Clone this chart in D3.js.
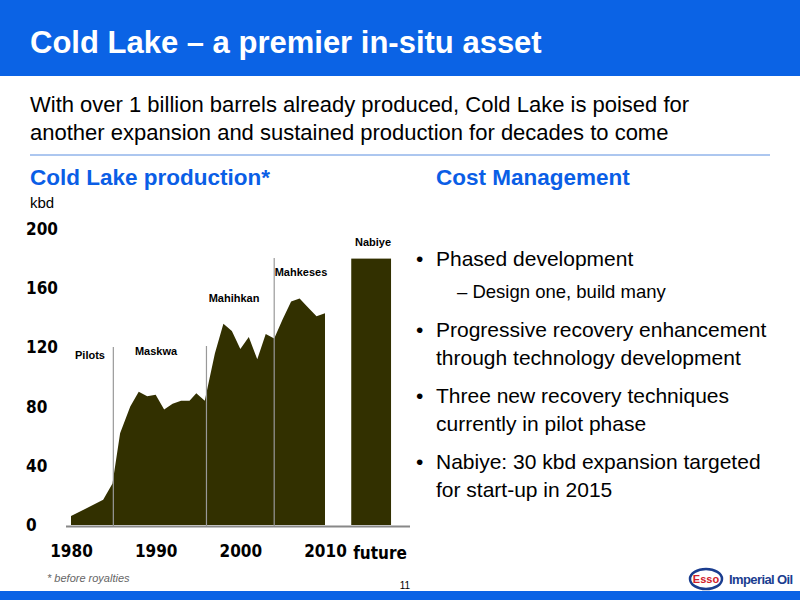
<!DOCTYPE html>
<html><head><meta charset="utf-8">
<script src="https://cdn.jsdelivr.net/npm/d3@7"></script>
<style>body{margin:0;background:#fff}svg{display:block;font-family:"Liberation Sans",Arial,sans-serif}</style>
</head><body><svg id="c" width="800" height="600"></svg>
<script>
// production, kbd
var years = [1980,1983.8,1984.9,1985.8,1987,1988,1989,1990,1991,1992,1993,1994,1994.8,1995.8,1997,1998,1999,2000,2001,2002,2003,2004,2005,2006,2007,2008,2009,2010];
var production = [6,17,28,62,80,90,87,88,78,82,84,84,89,84,116,136,131,119,127,112,129,126,139,151,153,147,141,143];
var futureValue = 180;
var yTicks = [0,40,80,120,160,200];
var xTicks = [1980,1990,2000,2010];
var bullets = [
  ["Phased development"],
  ["Progressive recovery enhancement","through technology development"],
  ["Three new recovery techniques","currently in pilot phase"],
  ["Nabiye: 30 kbd expansion targeted","for start-up in 2015"]
];

var svg = d3.select("#c");
var blue = "#0a5ee6", dark = "#323000";

svg.append("rect").attr("width",800).attr("height",76).attr("fill","#0b63e5");
svg.append("text").attr("x",30).attr("y",53).attr("fill","#fff").attr("font-size",31).attr("font-weight","bold").text("Cold Lake – a premier in-situ asset");
svg.append("text").attr("x",30).attr("y",112).attr("font-size",22).text("With over 1 billion barrels already produced, Cold Lake is poised for");
svg.append("text").attr("x",30).attr("y",140).attr("font-size",22).text("another expansion and sustained production for decades to come");
svg.append("line").attr("x1",30).attr("x2",770).attr("y1",155).attr("y2",155).attr("stroke","#5b8fe0");
svg.append("text").attr("x",30).attr("y",185).attr("fill",blue).attr("font-size",22.5).attr("font-weight","bold").text("Cold Lake production*");
svg.append("text").attr("x",436).attr("y",185).attr("fill",blue).attr("font-size",22.5).attr("font-weight","bold").text("Cost Management");
svg.append("text").attr("x",30).attr("y",208).attr("font-size",15).text("kbd");

var x = d3.scaleLinear().domain([1980,2010]).range([71,325]);
var y = d3.scaleLinear().domain([0,200]).range([525,229]);

svg.append("path").datum(d3.zip(years,production))
  .attr("fill",dark)
  .attr("d",d3.area().x(function(d){return x(d[0]);}).y0(y(0)).y1(function(d){return y(d[1]);}));

svg.append("rect").attr("x",x(2013.1)).attr("width",x(2017.8)-x(2013.1))
  .attr("y",y(futureValue)).attr("height",y(0)-y(futureValue)).attr("fill",dark);

svg.append("line").attr("x1",66).attr("x2",410).attr("y1",526.5).attr("y2",526.5).attr("stroke","#888").attr("stroke-width",2);

var tickFont = "'DejaVu Sans Condensed','Liberation Sans Narrow',sans-serif";
var ya = svg.append("g").attr("transform","translate(58,0)")
  .call(d3.axisLeft(y).tickValues(yTicks).tickSize(0).tickPadding(0));
ya.select(".domain").remove();
ya.selectAll("text").attr("font-size",17).attr("font-weight","bold").attr("font-family",tickFont).attr("fill","#000").attr("text-anchor","start").attr("x",-32);

var xa = svg.append("g").attr("transform","translate(0,545)")
  .call(d3.axisBottom(x).tickValues(xTicks).tickFormat(d3.format("d")).tickSize(0).tickPadding(0));
xa.select(".domain").remove();
xa.selectAll("text").attr("font-size",17).attr("font-weight","bold").attr("font-family",tickFont).attr("fill","#000").attr("dy","0.71em");
svg.append("text").attr("x",x(2016.5)).attr("y",559).attr("text-anchor","middle").attr("font-size",17).attr("font-weight","bold").attr("font-family",tickFont).text("future");

// phase separators and labels
var sepTop = {1985:347,1996:346,2004:258};
[1985,1996,2004].forEach(function(yr){
  svg.append("line").attr("x1",x(yr)).attr("x2",x(yr)).attr("y1",sepTop[yr]).attr("y2",526).attr("stroke","#999").attr("stroke-width",1.2);
});
var labels = [{t:"Pilots",x:90,y:359},{t:"Maskwa",x:156,y:355},{t:"Mahihkan",x:234,y:302},{t:"Mahkeses",x:301,y:276},{t:"Nabiye",x:373,y:246}];
svg.selectAll(".pl").data(labels).enter().append("text").attr("class","pl")
  .attr("x",function(d){return d.x;}).attr("y",function(d){return d.y;})
  .attr("text-anchor","middle").attr("font-size",11).attr("font-weight","bold").text(function(d){return d.t;});

// bullets
var by = [266,337,403,469];
bullets.forEach(function(b,i){
  svg.append("text").attr("x",416).attr("y",by[i]).attr("font-size",21).text("•");
  b.forEach(function(line,j){
    svg.append("text").attr("x",436).attr("y",by[i]+j*28).attr("font-size",21).text(line);
  });
});
svg.append("text").attr("x",457).attr("y",298).attr("font-size",18.5).text("– Design one, build many");

// footer
svg.append("text").attr("x",47).attr("y",582).attr("font-size",11).attr("font-style","italic").attr("fill","#666").text("* before royalties");
svg.append("text").attr("x",405).attr("y",589).attr("font-size",10).attr("text-anchor","middle").text("11");
svg.append("ellipse").attr("cx",706).attr("cy",579).attr("rx",16).attr("ry",10).attr("fill","#fff").attr("stroke","#1a3d8f").attr("stroke-width",2.5);
svg.append("text").attr("x",706).attr("y",583).attr("text-anchor","middle").attr("font-size",11).attr("font-weight","bold").attr("fill","#d0202a").text("Esso");
svg.append("text").attr("x",729).attr("y",584).attr("font-size",13).attr("font-weight","bold").attr("fill","#1a3d8f").attr("letter-spacing","-0.6").text("Imperial Oil");
svg.append("rect").attr("y",591).attr("width",800).attr("height",9).attr("fill","#0b63e5");
</script></body></html>
